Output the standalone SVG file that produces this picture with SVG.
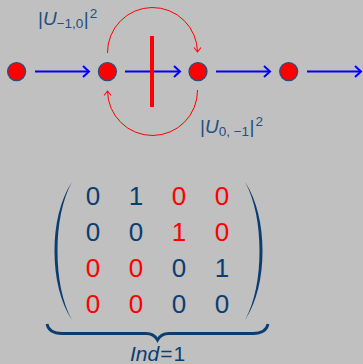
<svg xmlns="http://www.w3.org/2000/svg" width="363" height="364" viewBox="0 0 363 364">
<defs>
<marker id="bh" viewBox="-8 -7 10 14" refX="0" refY="0" markerWidth="10" markerHeight="14" markerUnits="userSpaceOnUse" orient="auto">
<path d="M-6,-5.5 L0,0 L-6,5.5" fill="none" stroke="#0000ff" stroke-width="2"/>
</marker>
<marker id="rh" viewBox="-6 -5 8 10" refX="0" refY="0" markerWidth="8" markerHeight="10" markerUnits="userSpaceOnUse" orient="auto">
<path d="M-4.5,-3.5 L0,0 L-4.5,3.5" fill="none" stroke="#ff0000" stroke-width="1"/>
</marker>
</defs>
<style>
.node{fill:#ff0000;stroke:#2a4f7f;stroke-width:1.3}
.ba{stroke:#0000ff;stroke-width:2.2;fill:none;marker-end:url(#bh)}
.ra{stroke:#ff0000;stroke-width:1;fill:none;marker-end:url(#rh)}
.lbl{font-family:"Liberation Sans",Arial,sans-serif;fill:#22507f;font-size:19px}
.sub{font-size:13.5px}
.m{font-family:"Liberation Sans",Arial,sans-serif;font-size:26px;text-anchor:middle;fill:#0b3d70}
.r{fill:#ff0000}
.brk{fill:#0b3d70}
</style>
<rect width="363" height="364" fill="#c0c0c0"/>
<g id="connectors">
<path class="ba" d="M35,71.5 H89"/>
<path class="ba" d="M125,71.5 H180"/>
<path class="ba" d="M216,71.5 H270"/>
<path class="ba" d="M307,71.5 H361"/>
<path class="ra" d="M107.5,53 A45,45 0 0 1 197.5,52"/>
<path class="ra" d="M197.5,90 A45,45 0 0 1 107.5,91"/>
<rect x="150" y="36" width="4" height="71" fill="#ff0000"/>
</g>
<g id="n1"><circle class="node" cx="16.6" cy="71.6" r="9"/></g>
<g id="n2"><circle class="node" cx="107.4" cy="71.6" r="9"/></g>
<g id="n3"><circle class="node" cx="198" cy="71.6" r="9"/></g>
<g id="n4"><circle class="node" cx="288.7" cy="71.6" r="9"/></g>
<g id="label1"><text class="lbl" x="38" y="25">|<tspan font-style="italic">U</tspan><tspan class="sub" dy="2.5">−1,0</tspan><tspan dy="-2.5" dx="0.5">|</tspan><tspan class="sub" dy="-7" dx="1">2</tspan></text></g>
<g id="label2"><text class="lbl" x="200" y="133">|<tspan font-style="italic">U</tspan><tspan class="sub" dy="2.5">0, −1</tspan><tspan dy="-2.5" dx="0.5">|</tspan><tspan class="sub" dy="-7" dx="1">2</tspan></text></g>
<g id="matrix">
<path class="brk" d="M72,182 C60,200 54.5,225 54.5,251 C54.5,277 60,302 72,320 C62,302 57.5,277 57.5,251 C57.5,225 62,200 72,182 Z"/>
<path class="brk" d="M245,182 C257,200 262.5,225 262.5,251 C262.5,277 257,302 245,320 C255,302 259.5,277 259.5,251 C259.5,225 255,200 245,182 Z"/>
<text class="m" y="205"><tspan x="93">0</tspan><tspan x="136">1</tspan><tspan x="179" class="r">0</tspan><tspan x="222" class="r">0</tspan></text>
<text class="m" y="241"><tspan x="93">0</tspan><tspan x="136">0</tspan><tspan x="179" class="r">1</tspan><tspan x="222" class="r">0</tspan></text>
<text class="m" y="277"><tspan x="93" class="r">0</tspan><tspan x="136" class="r">0</tspan><tspan x="179">0</tspan><tspan x="222">1</tspan></text>
<text class="m" y="313"><tspan x="93" class="r">0</tspan><tspan x="136" class="r">0</tspan><tspan x="179">0</tspan><tspan x="222">0</tspan></text>
<path d="M47,324 Q49,333.5 62,333.5 L146,333.5 Q154,333.5 157.5,340 Q161,333.5 169,333.5 L253,333.5 Q266,333.5 268,324" fill="none" stroke="#0b3d70" stroke-width="2.8"/>
<text x="157.5" y="361" text-anchor="middle" style="font-family:'Liberation Sans',Arial,sans-serif;font-size:21px;fill:#0b3d70"><tspan font-style="italic">Ind</tspan><tspan dx="1">=</tspan><tspan dx="1">1</tspan></text>
</g>
</svg>
